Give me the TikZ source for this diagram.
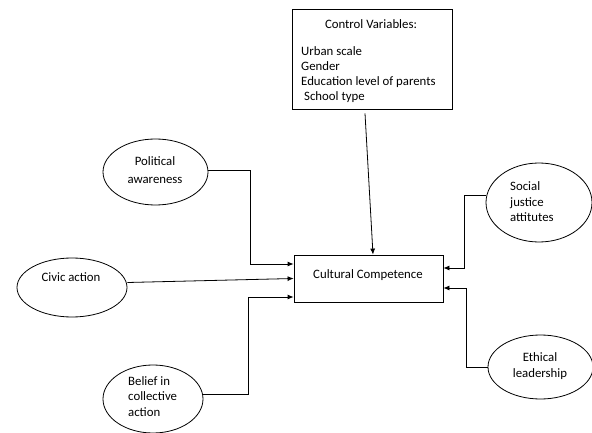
\documentclass[tikz,border=0pt]{standalone}
\usepackage{fontspec}
\setmainfont{Carlito}
\usetikzlibrary{arrows.meta,shapes.geometric}
\begin{document}
\begin{tikzpicture}[x=1pt,y=-1pt,
  font=\fontsize{12.8}{15.6}\selectfont,
  ell/.style={draw, ellipse, line width=0.8pt, inner sep=0pt},
  boxshape/.style={draw, line width=0.8pt, inner sep=0pt},
  arr/.style={-{Latex[length=6pt,width=5pt]}, line width=0.8pt},
  txtw/.style={inner sep=0pt, anchor=base west},
  txtc/.style={inner sep=0pt, anchor=base}]
\useasboundingbox (0,0) rectangle (592,433);
% control box
\node[boxshape, minimum width=160pt, minimum height=100pt] (cv) at (372,59) {};
\node[txtc] (cvt) at (371,29) {Control Variables:};
\node[txtw] (cv1) at (301,56) {Urban scale};
\node[txtw] (cv2) at (301,71) {Gender};
\node[txtw] (cv3) at (301,86) {Education level of parents};
\node[txtw] (cv4) at (304,101) {School type};
% central box
\node[boxshape, minimum width=149pt, minimum height=47pt] (cc) at (368.5,278.5) {};
\node[txtc] (cct) at (368,278) {Cultural Competence};
% ellipses
\node[ell, minimum width=105pt, minimum height=66pt] (pa) at (155.5,172) {};
\node[txtc] (pat1) at (155,166) {Political};
\node[txtc] (pat2) at (155,183) {awareness};
\node[ell, minimum width=110pt, minimum height=59pt] (ca) at (72,287.5) {};
\node[txtc] (cat) at (71,281) {Civic action};
\node[ell, minimum width=100pt, minimum height=68pt] (bl) at (153,399) {};
\node[txtw] (bl1) at (128,385) {Belief in};
\node[txtw] (bl2) at (128,400) {collective};
\node[txtw] (bl3) at (128,416) {action};
\node[ell, minimum width=106pt, minimum height=79pt] (sj) at (539,202.5) {};
\node[txtw] (sj1) at (510,190) {Social};
\node[txtw] (sj2) at (510,206) {justice};
\node[txtw] (sj3) at (510,221) {attitutes};
\node[ell, minimum width=105pt, minimum height=64pt] (el) at (540.5,367) {};
\node[txtc] (el1) at (540,361) {Ethical};
\node[txtc] (el2) at (540,377) {leadership};
% connectors
\draw[arr] ([xshift=-7pt,yshift=-4pt]cv.south) -- ([xshift=4.5pt]cc.north);
\draw[arr] ([yshift=2pt]pa.east) -- ++(42,0) |- ([yshift=14.5pt]cc.west);
\draw[arr] ([yshift=5pt]ca.east) -- (cc.west);
\draw[arr] ([yshift=5pt]bl.east) -- ++(45,0) |- ([yshift=-18.5pt]cc.west);
\draw[arr] ([yshift=7pt]sj.west) -- ++(-21,0) |- ([yshift=10.5pt]cc.east);
\draw[arr] (el.west) -- ++(-21,0) |- ([yshift=-9.5pt]cc.east);
\end{tikzpicture}
\end{document}
